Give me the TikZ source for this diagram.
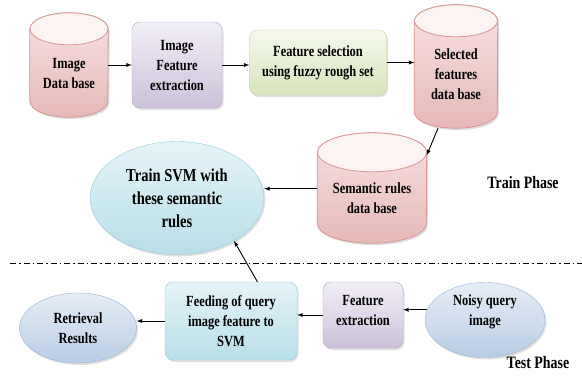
\documentclass[tikz,border=0pt]{standalone}
\usepackage{fontspec}
\setmainfont{Liberation Serif}[FakeStretch=0.8]
\usepackage{tikz}
\usetikzlibrary{arrows,shapes,shadows,backgrounds}

\definecolor{dbline}{HTML}{D99694}
\definecolor{dbtop}{HTML}{F8E1E1}
\definecolor{dbbot}{HTML}{E6B9B8}
\definecolor{purline}{HTML}{B3A2C7}
\definecolor{purtop}{HTML}{F2EFF7}
\definecolor{purbot}{HTML}{CCC1DA}
\definecolor{grnline}{HTML}{C3D69B}
\definecolor{grntop}{HTML}{F5F9EC}
\definecolor{grnbot}{HTML}{D7E4BD}
\definecolor{cyline}{HTML}{93CDDD}
\definecolor{cytop}{HTML}{E6F4F8}
\definecolor{cybot}{HTML}{B7DEE8}
\definecolor{blline}{HTML}{95B3D7}
\definecolor{bltop}{HTML}{E6EDF6}
\definecolor{blbot}{HTML}{B9CDE5}

\tikzset{
  txt/.style={font=\fontsize{15.5}{20}\selectfont\bfseries, align=center},
  shad/.style={drop shadow={opacity=0.25, shadow xshift=1.5pt, shadow yshift=-2pt}},
  dbnode/.style={rectangle, txt, inner sep=1pt},
  dbbody/.style={draw=dbline, line width=0.8pt, top color=dbtop, bottom color=dbbot, shad},
  dbcap/.style={draw=dbline, line width=0.8pt, fill=white!60!dbtop},
  purbox/.style={rectangle, rounded corners=8pt, draw=purline,
    top color=purtop, bottom color=purbot, shad, txt, inner sep=1pt},
  grnbox/.style={rectangle, rounded corners=8pt, draw=grnline,
    top color=grntop, bottom color=grnbot, shad, txt, inner sep=1pt},
  cybox/.style={rectangle, rounded corners=8pt, draw=cyline,
    top color=cytop, bottom color=cybot, shad, txt, inner sep=1pt},
  cyoval/.style={ellipse, draw=cyline, top color=cytop, bottom color=cybot,
    shad, txt, inner sep=0pt},
  bloval/.style={ellipse, draw=blline, top color=bltop, bottom color=blbot,
    shad, txt, inner sep=0pt},
  phase/.style={font=\fontsize{17.4}{20}\selectfont\bfseries},
  arr/.style={->, >=latex, line width=0.9pt}
}

% cylinder round a node: #1 node, #2 cap radius, #3 half width
\newcommand{\drawdb}[3]{%
  \draw[dbbody] (#1.north west) -- ([yshift=#2]#1.south west)
    arc[start angle=180, end angle=360, x radius=#3, y radius=#2]
    -- (#1.north east) arc[start angle=0, end angle=180, x radius=#3, y radius=#2] -- cycle;
  \draw[dbcap] (#1.north) ellipse [x radius=#3, y radius=#2];
}

\begin{document}
\begin{tikzpicture}[x=1pt,y=-1pt]
  \useasboundingbox (0,0) rectangle (582,376);
  % train phase
  \node[dbnode, minimum width=78pt, minimum height=88pt] (imgdb) at (69,73) {Image\\Data base};
  \node[purbox, minimum width=90pt, minimum height=86pt] (featext) at (177,65) {Image\\Feature\\extraction};
  \node[grnbox, minimum width=137pt, minimum height=65pt] (fuzzy) at (318,62.5) {Feature selection\\using fuzzy rough set};
  \node[dbnode, minimum width=83pt, minimum height=107pt] (seldb) at (456,74.5) {Selected\\features\\data base};
  \node[dbnode, minimum width=109pt, minimum height=90.5pt] (semdb) at (372,197.75) {Semantic rules\\data base};
  \begin{scope}[on background layer]
    \drawdb{imgdb}{16pt}{39pt}
    \drawdb{seldb}{16pt}{41.5pt}
    \drawdb{semdb}{19.5pt}{54.5pt}
  \end{scope}
  \node[cyoval, minimum width=174pt, minimum height=113pt, font=\fontsize{18.2}{23}\selectfont\bfseries] (svm) at (177,198) {Train SVM with\\these semantic\\rules};
  \node[phase] (train) at (523,183) {Train Phase};
  \draw[arr] (imgdb.east |- featext.west) -- (featext.west);
  \draw[arr] (featext.east) -- (fuzzy.west |- featext.east);
  \draw[arr] (fuzzy.east) -- (fuzzy.east -| seldb.west);
  \draw[arr] ([xshift=-18pt]seldb.south) -- ([yshift=-3pt]semdb.north east);
  \draw[arr] ([yshift=9pt]semdb.west) -- ([yshift=9pt]semdb.west -| svm.east);
  % separator
  \coordinate (sepl) at (10,263);
  \coordinate (sepr) at (582,263);
  \draw[line width=0.9pt, dash pattern=on 6pt off 3pt on 1.5pt off 3pt] (sepl) -- (sepr);
  % test phase
  \node[cybox, minimum width=132pt, minimum height=78pt] (feeding) at (231,321) {Feeding of query\\image feature to\\SVM};
  \node[bloval, minimum width=117pt, minimum height=70pt] (retr) at (78,328) {Retrieval\\Results};
  \node[purbox, minimum width=80pt, minimum height=66pt, text depth=10pt] (qfeat) at (363,315) {Feature\\extraction};
  \node[bloval, minimum width=120pt, minimum height=75pt, text depth=20pt] (noisy) at (485,320) {Noisy query\\image};
  \node[phase] (test) at (538,363) {Test Phase};
  \draw[arr] (noisy.170) -- (noisy.170 -| qfeat.east);
  \draw[arr] (qfeat.west) -- (feeding.east |- qfeat.west);
  \draw[arr] (feeding.west) -- (retr.east |- feeding.west);
  \draw[arr] (feeding.56) -- (svm.-37);
\end{tikzpicture}
\end{document}
